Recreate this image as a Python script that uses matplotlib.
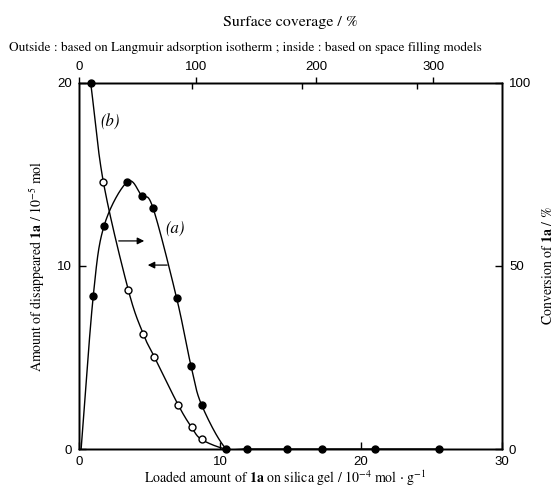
import numpy as np
import matplotlib
matplotlib.use('Agg')
import matplotlib.pyplot as plt

plt.rcParams['font.family'] = 'STIXGeneral'
plt.rcParams['mathtext.fontset'] = 'stix'

# (a) amount of disappeared 1a, 10^-5 mol (left axis), filled circles
a_x = [1.01, 1.78, 3.43, 4.45, 5.24, 6.93, 7.94, 8.70, 10.45, 11.9, 14.73, 17.2, 21.0, 25.5]
a_y = [8.36, 12.2, 14.6, 13.84, 13.19, 8.23, 4.55, 2.40, 0, 0, 0, 0, 0, 0]

# (b) conversion of 1a, % (right axis), open circles (first point drawn filled)
b_x = [0.83, 1.73, 3.50, 4.56, 5.34, 7.04, 7.99, 8.70]
b_y = [100, 72.9, 43.4, 31.4, 25.2, 12.0, 5.9, 2.6]

# where the drawn curves start / end
a_start = (0.15, 0.0)
b_end_x = [10.4, 11.9]

# top axis: surface coverage, positions in loaded-amount units
coverage_labels = ['0', '100', '200', '300']
coverage_langmuir_pos = [0, 8.30, 16.81, 25.11]   # outside ticks
coverage_space_pos = [8.01, 15.82, 23.97]         # inside ticks


def smooth(xs, ys, sx, sy, n=40):
    # Catmull-Rom curve through the points, built in normalised units
    p = np.column_stack([np.asarray(xs) / sx, np.asarray(ys) / sy])
    p = np.vstack([2 * p[0] - p[1], p, 2 * p[-1] - p[-2]])
    out = []
    t = np.linspace(0, 1, n)[:, None]
    for i in range(1, len(p) - 2):
        p0, p1, p2, p3 = p[i - 1], p[i], p[i + 1], p[i + 2]
        seg = 0.5 * ((2 * p1) + (-p0 + p2) * t + (2 * p0 - 5 * p1 + 4 * p2 - p3) * t ** 2
                     + (-p0 + 3 * p1 - 3 * p2 + p3) * t ** 3)
        out.append(seg)
    c = np.vstack(out)
    return c[:, 0] * sx, c[:, 1] * sy


fig = plt.figure(figsize=(5.56, 4.87), dpi=100)
ax = fig.add_axes([0.1421, 0.0780, 0.7608, 0.7516])
ax2 = ax.twinx()
ax3 = ax.twiny()

for a in (ax, ax2, ax3):
    for s in a.spines.values():
        s.set_linewidth(1.0)

ax.set_xlim(0, 30)
ax.set_ylim(0, 20)
ax2.set_ylim(0, 100)
ax3.set_xlim(0, 30)

# curve (a)
cx, cy = smooth([a_start[0]] + a_x, [a_start[1]] + a_y, 30, 20)
ax.plot(cx, cy, color='k', lw=1.0)
ax.plot(a_x, a_y, 'o', color='k', ms=5, clip_on=False, zorder=5)

# curve (b)
cx, cy = smooth(b_x + b_end_x, b_y + [0, 0], 30, 100)
ax2.plot(cx, cy, color='k', lw=1.0)
ax2.plot(b_x[1:], b_y[1:], 'o', mfc='white', mec='k', mew=1.0, ms=5, zorder=5)
ax2.plot(b_x[:1], b_y[:1], 'o', color='k', ms=5, clip_on=False, zorder=5)

# labels and arrows
ax.text(6.81, 12.08, '(a)', style='italic', fontsize=12, ha='center', va='center')
ax.text(2.2, 17.87, '(b)', style='italic', fontsize=12, ha='center', va='center')
ax.annotate('', xy=(4.82, 11.37), xytext=(2.62, 11.37),
            arrowprops=dict(arrowstyle='-|>', color='k', lw=0.9, mutation_scale=10))
ax.annotate('', xy=(4.68, 10.05), xytext=(6.45, 10.05),
            arrowprops=dict(arrowstyle='-|>', color='k', lw=0.9, mutation_scale=10))

tick_font = dict(family='Liberation Sans', size=9.5)

ax.set_xticks([0, 10, 20, 30])
ax.set_yticks([0, 10, 20])
ax.tick_params(direction='in', length=5, width=1.0, pad=5)
for lab in ax.get_xticklabels() + ax.get_yticklabels():
    lab.set_fontproperties(tick_font)

ax2.set_yticks([0, 50, 100])
ax2.tick_params(direction='in', length=5, width=1.0, pad=5)
for lab in ax2.get_yticklabels():
    lab.set_fontproperties(tick_font)

ax3.set_xticks(coverage_langmuir_pos, coverage_labels)
ax3.set_xticks(coverage_space_pos, minor=True)
ax3.tick_params(which='major', direction='out', length=4, width=1.0, pad=3)
ax3.tick_params(which='minor', direction='in', length=4, width=1.0)
for lab in ax3.get_xticklabels():
    lab.set_fontproperties(tick_font)

ax.set_xlabel(r'Loaded amount of $\mathbf{1a}$ on silica gel / 10$^{-4}$ mol $\cdot$ g$^{-1}$',
              fontsize=10, va='center')
ax.xaxis.set_label_coords(0.487, -0.079)
ax.set_ylabel(r'Amount of disappeared $\mathbf{1a}$ / 10$^{-5}$ mol', fontsize=10, va='center')
ax.yaxis.set_label_coords(-0.099, 0.5)
ax2.set_ylabel(r'Conversion of $\mathbf{1a}$ / %', fontsize=10, va='center')
ax2.yaxis.set_label_coords(1.109, 0.5)

fig.text(290 / 556, 1 - 22 / 487, 'Surface coverage / %', ha='center', va='center', fontsize=11.5)
fig.text(9 / 556, 1 - 48 / 487,
         'Outside : based on Langmuir adsorption isotherm ; inside : based on space filling models',
         ha='left', va='center', fontsize=9.5)

fig.savefig('out.png', dpi=100)
